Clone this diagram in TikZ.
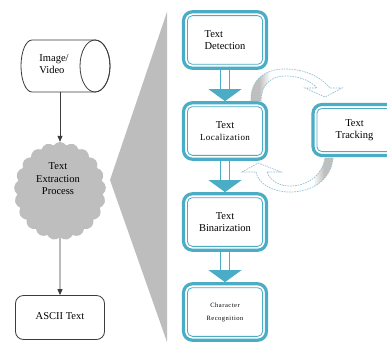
\documentclass[tikz,border=0pt]{standalone}
\usepackage{fontspec}
\setmainfont{Liberation Serif}
\usetikzlibrary{shapes.symbols,arrows.meta,calc}

\definecolor{stageblue}{HTML}{4BACC6}
\definecolor{dashblue}{HTML}{8FC2D2}
\definecolor{wedgegray}{HTML}{BDBDBD}
\definecolor{cloudgray}{HTML}{BEBEBE}
\definecolor{inkgray}{HTML}{3C3C3C}

% grey tail fading into white along the curved feedback arrows
\pgfdeclarehorizontalshading{tailleft}{100bp}{color(0bp)=(gray!50); color(30bp)=(gray!50); color(36bp)=(white); color(100bp)=(white)}
\pgfdeclarehorizontalshading{tailright}{100bp}{color(0bp)=(white); color(64bp)=(white); color(70bp)=(gray!50); color(100bp)=(gray!50)}

\tikzset{
  txt/.style={font=\fontsize{10.5}{12.5}\selectfont, inner sep=0pt},
  stage/.style={draw=stageblue, line width=3.2pt, rounded corners=9pt, fill=white,
    minimum width=83pt, minimum height=56.5pt, inner sep=0pt, align=center,
    font=\fontsize{10.5}{12.5}\selectfont},
  flow/.style={draw=inkgray, line width=0.8pt, -{Triangle[length=6pt,width=5pt]}},
  feedback/.style={draw=dashblue, line width=0.7pt, dash pattern=on 1.6pt off 1pt},
}

\begin{document}
\begin{tikzpicture}[x=1pt,y=-1pt]
\useasboundingbox (0,0) rectangle (387,342);
\clip (0,0) rectangle (387,342);
\fill[white] (0,0) rectangle (387,342);

% ---- overview column ----
\node[inner sep=0pt, minimum width=90pt, minimum height=52pt] (src) at (65,66) {};
\draw[inkgray, line width=0.8pt, fill=white]
  (32,40) -- (95,40) arc[start angle=90, end angle=-90, x radius=15pt, y radius=26pt]
  -- (32,92) arc[start angle=270, end angle=90, x radius=11pt, y radius=26pt] -- cycle;
\draw[inkgray, line width=0.8pt] (95,66) ellipse [x radius=15pt, y radius=26pt];
\node[txt, align=left] (srctxt) at (54,64) {Image/\\Video};

\node[cloud, cloud puffs=21, cloud puff arc=115, aspect=0.95, fill=cloudgray,
      minimum width=92pt, minimum height=98pt, inner sep=0pt] (cld) at (60,191) {};
\node[txt, align=center] (cldtxt) at (58,179) {Text\\Extraction\\Process};

\node[draw=inkgray, line width=0.8pt, rounded corners=8pt, minimum width=89pt,
      minimum height=44pt, txt] (out) at (60,317.5) {\raisebox{3pt}{ASCII Text}};

\draw[flow] (src.south -| cld.north) -- (cld.north);
\draw[flow] (cld.south) -- (out.north);

% ---- zoom wedge ----
\fill[wedgegray] (110,180) -- (167,12) -- (167,342) -- cycle;

% ---- detailed stages ----
\node[stage, align=left] (det) at (225,40) {Text\\Detection};
\node[stage] (loc) at (225,131) {Text\\{\fontsize{9}{12.5}\selectfont\addfontfeature{LetterSpace=5}Localization}};
\node[stage, minimum height=51pt] (trk) at (354.5,130) {Text\\Tracking};
\node[stage] (bin) at (225,222) {Text\\Binarization};
\node[stage, font=\fontsize{6.5}{13}\selectfont\addfontfeature{LetterSpace=8}] (chr) at (225,312) {Character\\Recognition};

\foreach \n in {det,loc,trk,bin,chr}
  \draw[stageblue, line width=0.8pt, rounded corners=5pt]
    ($(\n.north west)+(5.5,5.5)$) rectangle ($(\n.south east)+(-5.5,-5.5)$);

% block arrows between consecutive stages
\foreach \p/\q in {det/loc, loc/bin, bin/chr} {
  \draw[stageblue, line width=1.1pt, fill=white]
    ($(\p.south)+(-4.5,0)$) rectangle ($(\q.north)+(4.5,-12)$);
  \fill[stageblue] ($(\q.north)+(-16.5,-12)$) -- ($(\q.north)+(16.5,-12)$) -- (\q.north) -- cycle;
}

% curved feedback arrows between localization and tracking
\draw[feedback, shading=tailleft]
  (251,101) .. controls (250,80) and (265,69) .. (285,69)
  .. controls (305,69) and (321,77) .. (330,88)
  -- (342,88) -- (325,97) -- (305,88) -- (317,88)
  .. controls (310,80) and (298,76) .. (285,76)
  .. controls (271,76) and (261,85) .. (261,101) -- cycle;

\draw[feedback, shading=tailright]
  (333,158) .. controls (331,180) and (312,192) .. (290,192)
  .. controls (273,192) and (258,184) .. (256,172)
  -- (242,172) -- (258,163) -- (281,172) -- (267,172)
  .. controls (270,181) and (280,186) .. (290,186)
  .. controls (307,186) and (322,176) .. (325,158) -- cycle;
\end{tikzpicture}
\end{document}
